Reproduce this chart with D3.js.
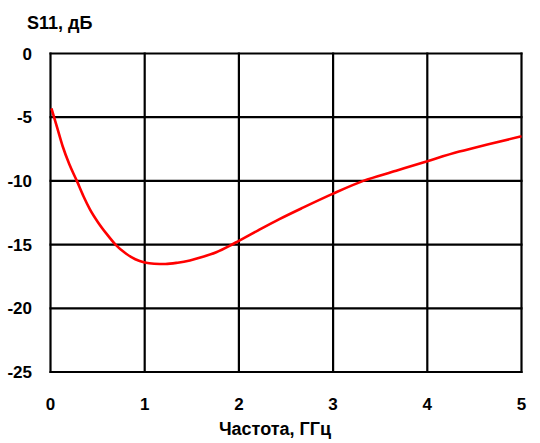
<!DOCTYPE html>
<html><head><meta charset="utf-8">
<script src="https://cdn.jsdelivr.net/npm/d3@7"></script>
<style>body{margin:0;background:#fff}text{font-family:"Liberation Sans",Arial,sans-serif;font-weight:bold;fill:#000}</style>
</head><body><svg id="c" width="540" height="443"></svg>
<script>
const freq = [0.01,0.07,0.13,0.2,0.28,0.35,0.42,0.5,0.6,0.69,0.8,0.9,1.0,1.1,1.22,1.35,1.48,1.6,1.76,1.9,2.0,2.2,2.43,2.68,3.0,3.32,3.67,4.0,4.34,4.66,5.0];
const s11 = [-4.3,-5.8,-7.3,-8.7,-10.0,-11.2,-12.25,-13.2,-14.2,-15.0,-15.7,-16.15,-16.4,-16.5,-16.52,-16.42,-16.24,-16.0,-15.6,-15.1,-14.7,-13.9,-13.0,-12.1,-11.0,-10.0,-9.2,-8.45,-7.7,-7.1,-6.5];
const xTicks = [0,1,2,3,4,5];
const yTicks = [0,-5,-10,-15,-20,-25];
const yTitle = "S11, дБ";
const xTitle = "Частота, ГГц";

const svg = d3.select("#c");
const x = d3.scaleLinear().domain([0,5]).range([50.5,521.5]);
const y = d3.scaleLinear().domain([0,-25]).range([53.5,372]);

const g = svg.append("g");
g.selectAll("line.v").data(xTicks).join("line")
  .attr("x1",d=>x(d)).attr("x2",d=>x(d)).attr("y1",y(0)-1).attr("y2",y(-25)+1)
  .attr("stroke","#000").attr("stroke-width",2.2);
g.selectAll("line.h").data(yTicks).join("line")
  .attr("y1",d=>y(d)).attr("y2",d=>y(d)).attr("x1",x(0)-1).attr("x2",x(5)+1)
  .attr("stroke","#000").attr("stroke-width",2.2);

svg.selectAll("text.xt").data(xTicks).join("text")
  .attr("x",d=>x(d)).attr("y",410).attr("text-anchor","middle")
  .style("font-size","17px").text(d=>d);
svg.selectAll("text.yt").data(yTicks).join("text")
  .attr("x",32).attr("y",d=>y(d)+6).attr("text-anchor","end")
  .style("font-size","17px").text(d=>d);

svg.append("text").attr("x",27).attr("y",29).style("font-size","18px").text(yTitle);
svg.append("text").attr("x",275).attr("y",435).attr("text-anchor","middle").style("font-size","18px").text(xTitle);

const line = d3.line().x((d,i)=>x(freq[i])).y(d=>y(d)).curve(d3.curveMonotoneX);
svg.append("path").datum(s11).attr("d",line).attr("fill","none")
  .attr("stroke","#ff0000").attr("stroke-width",2.6);
</script></body></html>
